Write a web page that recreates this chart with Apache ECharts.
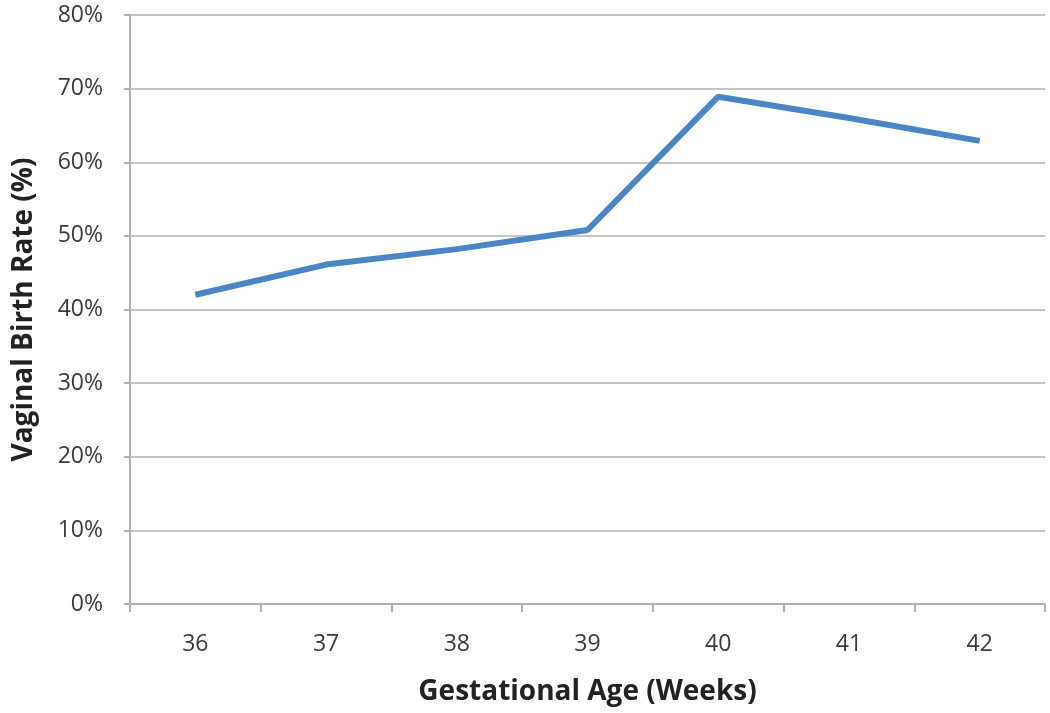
<!DOCTYPE html>
<html><head><meta charset="utf-8">
<script src="https://cdn.jsdelivr.net/npm/echarts@6/dist/echarts.min.js"></script>
<style>html,body{margin:0;padding:0;background:#fff}#c{width:1050px;height:713px}</style>
</head><body><div id="c"></div>
<script>
var weeks = ['36','37','38','39','40','41','42'];
var vaginalBirthRate = [42.0, 46.1, 48.2, 50.8, 68.9, 66.0, 62.9];
var yTicks = [0,10,20,30,40,50,60,70,80];

var chart = echarts.init(document.getElementById('c'));
chart.setOption({
  animation:false,
  grid:{left:130,right:5,top:15,bottom:109},
  xAxis:{
    type:'category', data:weeks, boundaryGap:true,
    name:'Gestational Age (Weeks)', nameLocation:'middle', nameGap:74,
    nameTextStyle:{fontFamily:'Open Sans',fontWeight:'bold',fontSize:28,color:'#222'},
    axisLine:{lineStyle:{color:'#b0b0b0',width:2}},
    axisTick:{show:true,length:8,alignWithLabel:false,lineStyle:{color:'#b0b0b0',width:2}},
    axisLabel:{margin:29,fontFamily:'Open Sans',fontSize:23,color:'#3a3a3a'}
  },
  yAxis:{
    type:'value', min:0, max:80, interval:10,
    name:'Vaginal Birth Rate (%)', nameLocation:'middle', nameGap:92,
    nameTextStyle:{fontFamily:'Open Sans',fontWeight:'bold',fontSize:28,color:'#222'},
    axisLine:{show:true,lineStyle:{color:'#b0b0b0',width:2}},
    axisTick:{show:true,length:6,lineStyle:{color:'#b0b0b0',width:2}},
    splitLine:{lineStyle:{color:'#c4c4c4',width:2}},
    axisLabel:{margin:27,fontFamily:'Open Sans',fontSize:23,color:'#3a3a3a',formatter:function(v){return v+'%';}}
  },
  series:[{
    type:'line', data:vaginalBirthRate, symbol:'none',
    lineStyle:{color:'#4a86c4',width:6}
  }]
});
</script></body></html>
